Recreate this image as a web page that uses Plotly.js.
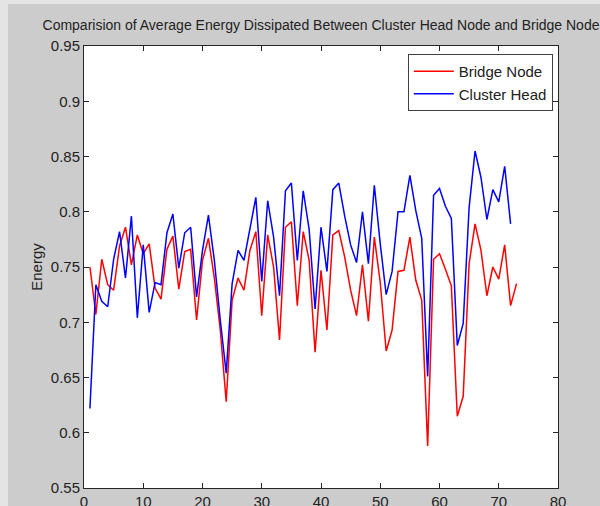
<!DOCTYPE html>
<html>
<head>
<meta charset="utf-8">
<script src="https://cdn.plot.ly/plotly-3.0.1.min.js"></script>
<style>html,body{margin:0;padding:0;background:#cccccc;}#chart{width:600px;height:506px;}</style>
</head>
<body>
<div id="chart"></div>
<script>
const seriesNames = ["Bridge Node", "Cluster Head"];
const bridgeNode = [0.750,0.707,0.757,0.734,0.729,0.769,0.786,0.752,0.779,0.762,
  0.771,0.731,0.721,0.766,0.778,0.730,0.764,0.766,0.702,0.756,
  0.776,0.740,0.693,0.628,0.720,0.740,0.729,0.765,0.782,0.706,
  0.779,0.750,0.684,0.786,0.791,0.715,0.782,0.756,0.673,0.747,
  0.693,0.779,0.783,0.759,0.729,0.706,0.752,0.701,0.777,0.736,
  0.674,0.693,0.746,0.747,0.777,0.738,0.720,0.588,0.757,0.762,
  0.748,0.733,0.615,0.633,0.753,0.789,0.765,0.724,0.750,0.739,
  0.770,0.715,0.735];
const clusterHead = [0.622,0.734,0.719,0.714,0.757,0.782,0.740,0.796,0.704,0.770,
  0.709,0.736,0.734,0.781,0.798,0.749,0.781,0.786,0.723,0.765,
  0.797,0.756,0.702,0.654,0.735,0.765,0.756,0.786,0.813,0.737,
  0.810,0.777,0.724,0.819,0.826,0.756,0.819,0.784,0.712,0.786,
  0.746,0.820,0.826,0.796,0.770,0.754,0.800,0.753,0.824,0.771,
  0.725,0.746,0.800,0.800,0.833,0.801,0.776,0.651,0.815,0.821,
  0.805,0.794,0.679,0.699,0.804,0.855,0.831,0.793,0.820,0.809,
  0.841,0.789];
const xTicks = [0,10,20,30,40,50,60,70,80];
const yTicks = [0.55,0.6,0.65,0.7,0.75,0.8,0.85,0.9,0.95];
const yTickText = ["0.55","0.6","0.65","0.7","0.75","0.8","0.85","0.9","0.95"];

const xb = bridgeNode.map((v,i)=>i+1);
const xc = clusterHead.map((v,i)=>i+1);
const FONT = '"Liberation Sans Narrow", "Arial Narrow", "Liberation Sans", Arial, sans-serif';

const traces = [
  {x: xb, y: bridgeNode, type:'scatter', mode:'lines', name: seriesNames[0], line:{color:'#ff0000', width:1.5}},
  {x: xc, y: clusterHead, type:'scatter', mode:'lines', name: seriesNames[1], line:{color:'#0000ff', width:1.5}}
];
const axisCommon = {showgrid:false, zeroline:false, showline:true, linecolor:'#262626', linewidth:1,
  mirror:'ticks', ticks:'inside', ticklen:5, tickcolor:'#262626', tickfont:{family:FONT, size:15, color:'#222'}};
const layout = {
  width:600, height:506,
  paper_bgcolor:'#cccccc', plot_bgcolor:'#ffffff',
  margin:{l:84, r:42, t:46, b:18},
  title:{text:'Comparision of Average Energy Dissipated Between Cluster Head Node and Bridge Node',
    font:{family:FONT, size:14, color:'#222'}, x:0.5, xref:'paper', y:1-25/506, yref:'container', yanchor:'middle'},
  xaxis: Object.assign({}, axisCommon, {range:[0,80], tickvals:xTicks, ticktext:xTicks.map(String)}),
  yaxis: Object.assign({}, axisCommon, {range:[0.55,0.95], tickvals:yTicks, ticktext:yTickText,
    title:{text:'Energy', font:{family:FONT, size:15, color:'#222'}, standoff:4}}),
  showlegend:true,
  legend:{x:0.989, xanchor:'right', y:0.982, yanchor:'top', bgcolor:'#ffffff', bordercolor:'#404040', borderwidth:1,
    font:{family:FONT, size:15, color:'#222'}, itemwidth:40},
  shapes:[
    {type:'rect', xref:'paper', yref:'paper', x0:-84/474, x1:516/474, y0:1+42/442, y1:1+46/442, fillcolor:'#e4e4e4', line:{width:0}, layer:'below'},
    {type:'rect', xref:'paper', yref:'paper', x0:-84/474, x1:-76/474, y0:-18/442, y1:1+46/442, fillcolor:'#e4e4e4', line:{width:0}, layer:'below'}
  ]
};
Plotly.newPlot('chart', traces, layout, {displayModeBar:false, staticPlot:true});
</script>
</body>
</html>
